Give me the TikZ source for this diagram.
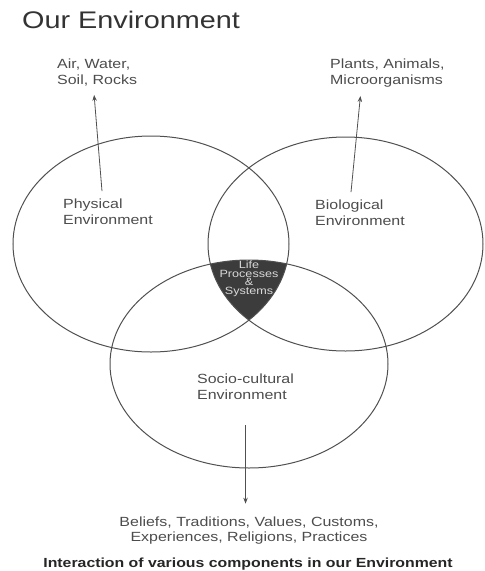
\documentclass[tikz,border=0pt]{standalone}
\usepackage{fontspec}
\setmainfont{Liberation Sans}[FakeStretch=1.2]
\usetikzlibrary{arrows.meta}
\usetikzlibrary{positioning}
\definecolor{scangray}{HTML}{4C4C4C}
\definecolor{ringgray}{HTML}{505050}
\definecolor{coregray}{HTML}{3C3C3C}
\begin{document}
\begin{tikzpicture}[x=1pt,y=-1pt,>={Stealth[length=6pt,width=4.5pt]},
  env ring/.style={draw=ringgray,line width=1pt},
  label text/.style={text=scangray,inner sep=0pt,align=left,
    font=\fontsize{13.3}{16}\selectfont},
  pointer/.style={->,draw=ringgray,line width=0.8pt}]
    % fundo, pra fixar o tamanho da figura
    \useasboundingbox (0,0) rectangle (485,571);
    \coordinate (physc) at (151,244);
    \coordinate (bioc) at (345.5,244);
    \coordinate (socc) at (249,364);
    % Parte escura: a intersecao das tres elipses
    \begin{scope}
        \clip (physc) ellipse [x radius=138, y radius=108];
        \clip (bioc) ellipse [x radius=137.5, y radius=107];
        \fill[coregray] (socc) ellipse [x radius=139, y radius=104];
    \end{scope}
    \draw[env ring] (physc) ellipse [x radius=138, y radius=108];
    \draw[env ring] (bioc) ellipse [x radius=137.5, y radius=107];
    \draw[env ring] (socc) ellipse [x radius=139, y radius=104];
    % Textos: (o base e a linha de base da ultima linha)
    \node (title) [anchor=base west,inner sep=0pt,text=black!80,
        font=\fontsize{24}{28}\selectfont] at (22,28) {Our Environment};
    \node (air) [label text,anchor=base west] at (57,84) {Air, Water,\\Soil, Rocks};
    \node (plants) [label text,anchor=base west] at (330,84) {Plants, Animals,\\Microorganisms};
    \node (physical) [label text,anchor=base west] at (63,224) {Physical\\Environment};
    \node (bio) [label text,anchor=base west] at (315,225) {Biological\\Environment};
    \node (socio) [label text,anchor=base west] at (197,399) {Socio-cultural\\Environment};
    \node (life) [inner sep=0pt,align=center,text=white!85!black,anchor=base,
        font=\fontsize{10.5}{8.5}\selectfont] at (249,294) {Life\\Processes\\\&\\Systems};
    \node (beliefs) [label text,align=center,anchor=base,
        font=\fontsize{13.3}{14.5}\selectfont] at (249,541)
        {Beliefs, Traditions, Values, Customs,\\Experiences, Religions, Practices};
    \node (caption) [anchor=base,inner sep=0pt,text=black!85,
        font=\bfseries\fontsize{13.2}{16}\selectfont] at (248,567)
        {Interaction of various components in our Environment};
    % Setas
    \draw[pointer] ([xshift=-6pt,yshift=7pt]physical.north) -- ([xshift=-3pt,yshift=-9pt]air.south);
    \draw[pointer] ([xshift=-9pt,yshift=7pt]bio.north) -- ([xshift=-27pt,yshift=-9pt]plants.south);
    \draw[pointer] ([yshift=-26pt]socio.south) -- ([yshift=13pt]socio.south |- beliefs.north);
\end{tikzpicture}
\end{document}
